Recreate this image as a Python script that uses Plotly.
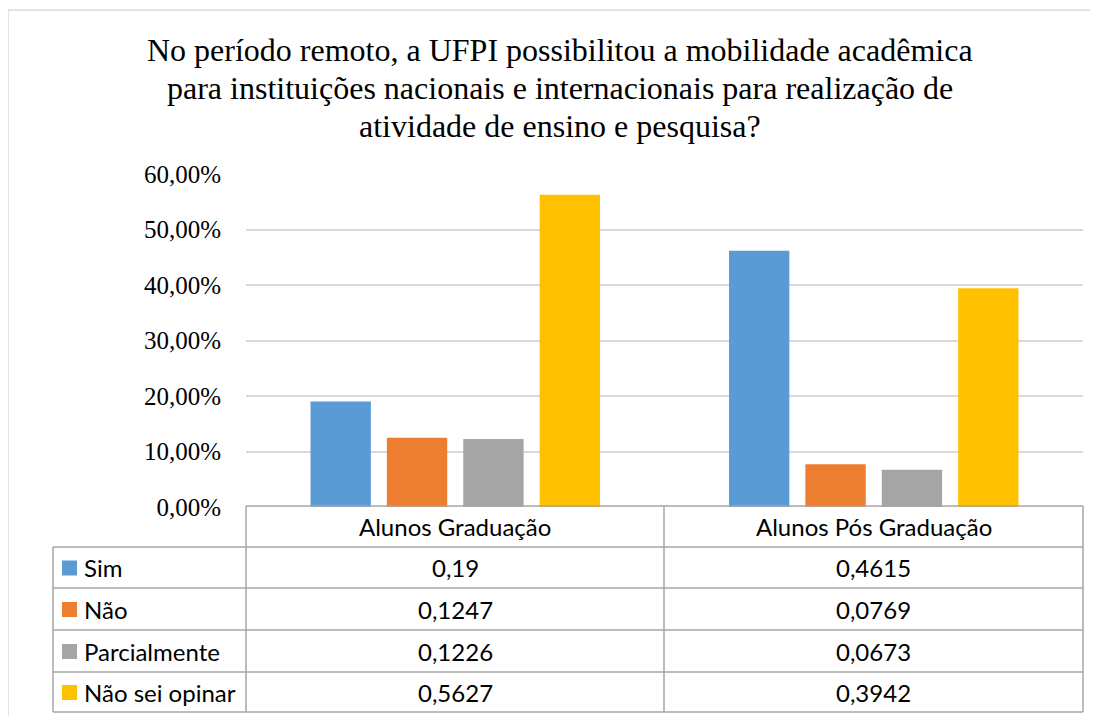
import plotly.graph_objects as go

# dados
categorias = ['Alunos Graduação', 'Alunos Pós Graduação']
series = ['Sim', 'Não', 'Parcialmente', 'Não sei opinar']
sim = [0.19, 0.4615]
nao = [0.1247, 0.0769]
parcialmente = [0.1226, 0.0673]
nao_sei = [0.5627, 0.3942]
cores = ['#5B9BD5', '#ED7D31', '#A5A5A5', '#FFC000']
rotulos_tabela = [['0,19', '0,4615'], ['0,1247', '0,0769'],
                  ['0,1226', '0,0673'], ['0,5627', '0,3942']]
titulo = ['No período remoto, a UFPI possibilitou a mobilidade acadêmica',
          'para instituições nacionais e internacionais para realização de',
          'atividade de ensino e pesquisa?']

# a página tem 8px de margem no body: desconta nas posições
OFF = 8
W, H = 1098 - OFF, 716 - OFF
L, T = 246 - OFF, 174 - OFF
R = W - (1083 - OFF)
B = H - (507 - OFF)

fig = go.Figure()
for nome, vals, cor in zip(series, [sim, nao, parcialmente, nao_sei], cores):
    fig.add_trace(go.Bar(x=categorias, y=vals, name=nome, marker_color=cor,
                         marker_line_width=0, showlegend=False))

fig.update_layout(
    width=W, height=H,
    margin=dict(l=L, r=R, t=T, b=B),
    paper_bgcolor='white', plot_bgcolor='white',
    barmode='group', bargap=0.27, bargroupgap=0.21,
    separators=',.',
)
fig.update_yaxes(range=[0, 0.6], dtick=0.1, tickformat='.2%',
                 gridcolor='#d9d9d9', gridwidth=1.5, zeroline=False,
                 showline=False, ticks='', ticklabelstandoff=24,
                 tickfont=dict(family='Liberation Serif', size=25, color='#000000'))
fig.update_xaxes(showticklabels=False, showline=False, ticks='')

pw, ph = W - L - R, H - T - B


# posições em pixels da imagem original -> coordenadas paper
def px_x(x):
    return (x - OFF - L) / pw


def px_y(y):
    return (H - B - (y - OFF)) / ph


# título
for k, txt in enumerate(titulo):
    fig.add_annotation(text=txt, xref='paper', yref='paper', x=px_x(560),
                       y=px_y(50 + 38 * k), xanchor='center', yanchor='middle',
                       showarrow=False,
                       font=dict(family='Liberation Serif', size=32, color='#000000'))

linha = dict(color='#a6a6a6', width=1.5)
topo, x_esq, x_meio, x_dir = 506, 53, 664, 1083
linhas_y = [506, 547, 588, 630, 672, 712]

# bordas da tabela
fig.add_shape(type='line', xref='paper', yref='paper', x0=px_x(246), x1=px_x(x_dir),
              y0=px_y(topo), y1=px_y(topo), line=linha)
for yy in linhas_y[1:]:
    fig.add_shape(type='line', xref='paper', yref='paper', x0=px_x(x_esq), x1=px_x(x_dir),
                  y0=px_y(yy), y1=px_y(yy), line=linha)
for xx in [246, x_meio, x_dir]:
    fig.add_shape(type='line', xref='paper', yref='paper', x0=px_x(xx), x1=px_x(xx),
                  y0=px_y(topo), y1=px_y(712), line=linha)
fig.add_shape(type='line', xref='paper', yref='paper', x0=px_x(x_esq), x1=px_x(x_esq),
              y0=px_y(547), y1=px_y(712), line=linha)

fonte_tab = dict(family='Lato', size=24, color='#000000')
centros_x = [(246 + x_meio) / 2, (x_meio + x_dir) / 2]
for cat, cx in zip(categorias, centros_x):
    fig.add_annotation(text=cat, xref='paper', yref='paper', x=px_x(cx),
                       y=px_y((506 + 547) / 2), xanchor='center', yanchor='middle',
                       showarrow=False, font=fonte_tab)

for i, nome in enumerate(series):
    cy = (linhas_y[i + 1] + linhas_y[i + 2]) / 2
    fig.add_shape(type='rect', xref='paper', yref='paper',
                  x0=px_x(62), x1=px_x(77), y0=px_y(cy - 7), y1=px_y(cy + 8),
                  fillcolor=cores[i], line_width=0)
    fig.add_annotation(text=nome, xref='paper', yref='paper', x=px_x(82),
                       y=px_y(cy), xanchor='left', yanchor='middle',
                       showarrow=False, font=fonte_tab)
    for j, cx in enumerate(centros_x):
        fig.add_annotation(text=rotulos_tabela[i][j], xref='paper', yref='paper',
                           x=px_x(cx), y=px_y(cy), xanchor='center', yanchor='middle',
                           showarrow=False, font=fonte_tab)

# moldura do gráfico (só esquerda e topo aparecem)
moldura = dict(color='#d9d9d9', width=1.5)
fig.add_shape(type='line', xref='paper', yref='paper', x0=px_x(8), x1=px_x(1110),
              y0=px_y(10), y1=px_y(10), line=moldura, layer='below')
fig.add_shape(type='line', xref='paper', yref='paper', x0=px_x(8), x1=px_x(8),
              y0=px_y(10), y1=px_y(730), line=moldura, layer='below')

fig.write_html('out.html')
